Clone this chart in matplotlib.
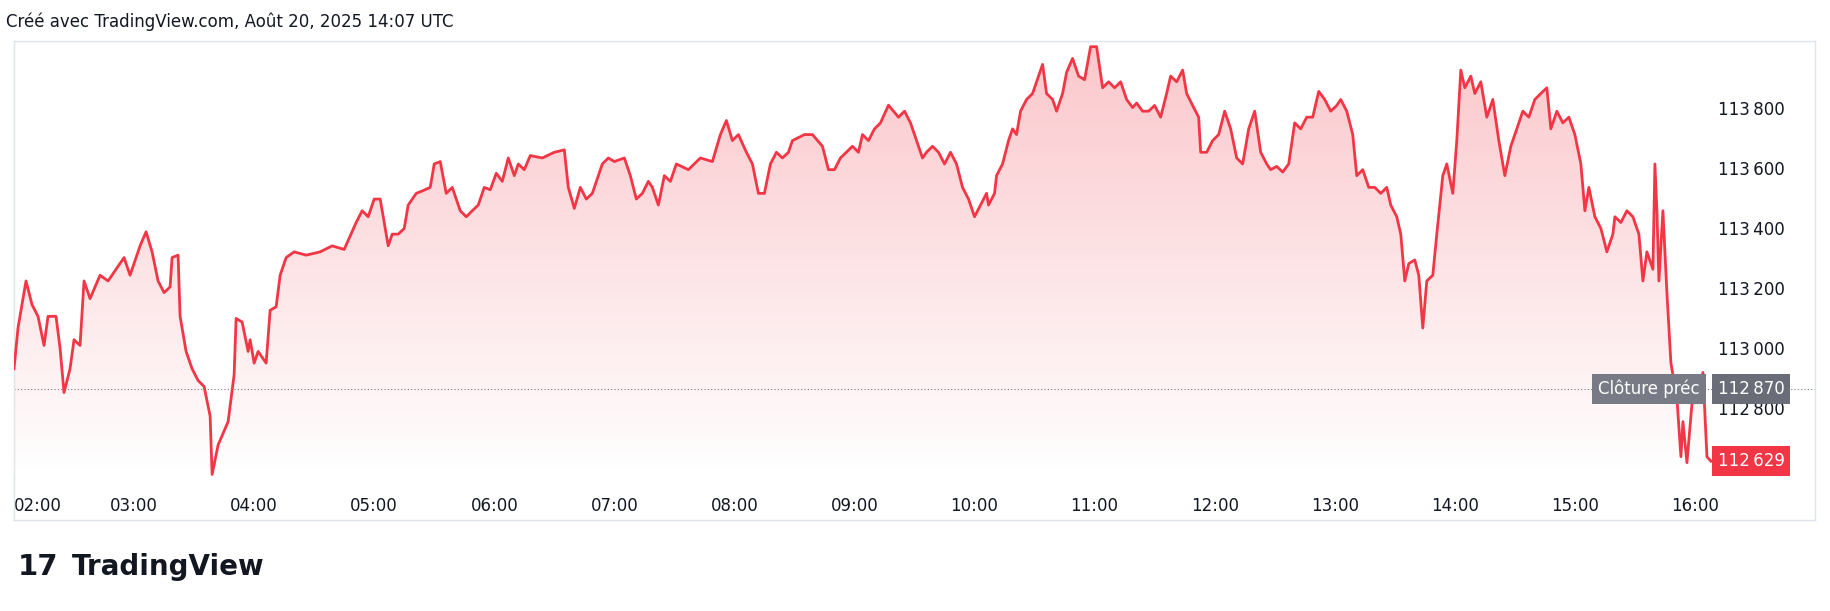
import matplotlib
matplotlib.use("Agg")
import matplotlib.pyplot as plt
import numpy as np
from matplotlib.patches import Polygon

minutes = [0,2,6,9,12,15,17,21,23,25,28,30,33,35,38,43,47,51,55,58,63,66,69,72,75,78,79,82,83,86,89,92,95,98,99,102,107,110,111,114,117,118,120,122,126,128,131,133,136,140,146,153,159,165,171,174,177,180,183,187,189,192,195,197,201,204,208,210,213,216,219,223,226,229,232,235,238,241,244,247,250,252,255,258,264,270,275,277,280,283,286,289,292,294,297,300,305,308,311,314,317,319,322,325,328,331,337,343,349,353,356,359,362,366,369,372,375,378,381,384,387,389,395,399,404,407,410,413,419,422,424,427,430,433,437,442,445,448,451,454,456,459,462,465,468,471,474,477,480,483,486,487,490,491,494,497,499,501,503,506,509,512,514,516,519,521,524,526,529,532,535,538,541,544,547,550,553,556,559,561,564,567,570,573,576,578,581,584,586,589,592,593,596,599,602,605,608,611,614,617,620,623,626,628,631,634,637,640,643,646,649,652,655,658,661,663,666,669,671,674,677,680,683,686,688,691,693,695,697,700,702,704,706,709,711,714,716,719,721,723,725,728,730,733,736,739,742,745,748,751,754,757,760,763,766,768,771,774,777,780,783,785,787,790,793,796,799,800,803,806,809,812,814,816,819,820,821,822,824,826,828,831,833,834,836,839,841,844,846,848]
prices = [112937,113073,113230,113151,113112,113015,113112,113112,113007,112858,112937,113034,113015,113230,113171,113249,113230,113269,113308,113249,113347,113394,113327,113230,113191,113210,113308,113316,113112,112995,112937,112898,112878,112780,112585,112683,112761,112917,113105,113093,112995,113034,112956,112995,112956,113132,113144,113249,113308,113327,113316,113327,113347,113335,113425,113464,113444,113503,113503,113347,113386,113386,113405,113483,113522,113530,113542,113620,113628,113522,113542,113464,113444,113464,113483,113542,113534,113589,113562,113640,113581,113620,113601,113648,113640,113659,113667,113542,113472,113542,113503,113522,113581,113620,113640,113628,113640,113581,113503,113522,113562,113542,113483,113581,113562,113620,113601,113640,113628,113718,113765,113698,113718,113659,113620,113522,113522,113620,113659,113640,113659,113698,113718,113718,113679,113601,113601,113640,113679,113659,113718,113698,113737,113757,113816,113776,113796,113757,113698,113640,113659,113679,113659,113620,113659,113620,113542,113503,113444,113483,113522,113483,113522,113581,113620,113698,113737,113718,113796,113835,113855,113913,113952,113855,113835,113796,113855,113925,113972,113913,113901,114011,114011,113874,113894,113874,113894,113835,113808,113823,113796,113796,113815,113776,113855,113913,113894,113933,113855,113815,113776,113659,113659,113698,113718,113796,113737,113640,113620,113737,113796,113659,113620,113601,113612,113593,113620,113757,113737,113776,113776,113862,113835,113796,113815,113835,113796,113718,113581,113601,113542,113542,113522,113542,113483,113444,113386,113230,113288,113300,113249,113073,113230,113249,113386,113581,113620,113522,113698,113933,113874,113913,113855,113894,113776,113835,113698,113581,113679,113737,113796,113776,113835,113855,113874,113737,113796,113757,113776,113718,113620,113464,113542,113444,113405,113327,113386,113444,113425,113464,113444,113386,113230,113327,113269,113620,113464,113230,113464,113191,112956,112839,112644,112761,112624,112858,112839,112925,112644,112629]
hour_labels = ["02:00","03:00","04:00","05:00","06:00","07:00","08:00","09:00","10:00","11:00","12:00","13:00","14:00","15:00","16:00"]
y_ticks = [112800,113000,113200,113400,113600,113800]
prev_close = 112870
last_price = 112629

RED = "#F23645"
fig = plt.figure(figsize=(18.3, 6.11), dpi=100)
ax = fig.add_axes([14/1830, 1-478/611, (1815-14)/1830, (478-41)/611])
x = np.array(minutes, float); y = np.array(prices, float)
xmin, xmax = 0, 900
ymin, ymax = 112573, 114030
ax.set_xlim(xmin, xmax); ax.set_ylim(ymin, ymax)

alpha = np.linspace(0.0, 0.28, 256)
img = np.zeros((256, 1, 4))
img[..., 0], img[..., 1], img[..., 2] = 0.949, 0.212, 0.271
img[:, 0, 3] = alpha
im = ax.imshow(img, extent=[x[0], x[-1], ymin, y.max()], origin="lower",
               aspect="auto", zorder=1, interpolation="bilinear")
poly = Polygon(np.column_stack([np.r_[x[0], x, x[-1]], np.r_[ymin, y, ymin]]), closed=True,
               facecolor="none", edgecolor="none")
ax.add_patch(poly); im.set_clip_path(poly)
ax.plot(x, y, color=RED, lw=2, zorder=3)
ax.axhline(prev_close, color="#787b86", lw=0.8, ls=(0, (1, 2)), zorder=2)

for s in ax.spines.values():
    s.set_color("#e0e3eb"); s.set_linewidth(1)
ax.spines["bottom"].set_visible(False)
ax.set_yticks([])
ax.set_xticks([i*60 for i in range(len(hour_labels))])
ax.set_xticklabels(hour_labels, fontsize=12, color="#131722")
ax.tick_params(axis="x", length=0, pad=14)
ax.get_xticklabels()[0].set_horizontalalignment("left")

def fmt(v):
    return f"{v:,}".replace(",", "\u2009")
tr = ax.get_yaxis_transform()
for v in y_ticks:
    ax.text(0.983, v, fmt(v), transform=tr, ha="right", va="center", fontsize=12, color="#131722")
ax.text(0.983, prev_close, fmt(prev_close), transform=tr, ha="right", va="center",
        fontsize=12, color="white", bbox=dict(boxstyle="square,pad=0.35", fc="#6a6d78", ec="none"), zorder=5)
ax.text(0.936, prev_close, "Clôture préc", transform=tr, ha="right", va="center",
        fontsize=12, color="white", bbox=dict(boxstyle="square,pad=0.35", fc="#787b86", ec="none"), zorder=5)
ax.text(0.983, last_price, fmt(last_price), transform=tr, ha="right", va="center",
        fontsize=12, color="white", bbox=dict(boxstyle="square,pad=0.35", fc=RED, ec="none"), zorder=5)

fig.add_artist(plt.Line2D([14/1830, 1815/1830], [1-520/611]*2, color="#e0e3eb", lw=1))
fig.add_artist(plt.Line2D([14/1830]*2, [1-520/611, 1-478/611], color="#e0e3eb", lw=1))
fig.add_artist(plt.Line2D([1815/1830]*2, [1-520/611, 1-478/611], color="#e0e3eb", lw=1))

fig.text(6/1830, 1-22/611, "Créé avec TradingView.com, Août 20, 2025 14:07 UTC", fontsize=12,
         color="#131722", va="center")
fig.text(18/1830, 1-567/611, "17", fontsize=21, fontweight="bold", color="#131722", va="center")
fig.text(72/1830, 1-567/611, "TradingView", fontsize=20, fontweight="bold", color="#131722", va="center")
fig.savefig("out.png", dpi=100, facecolor="white")
